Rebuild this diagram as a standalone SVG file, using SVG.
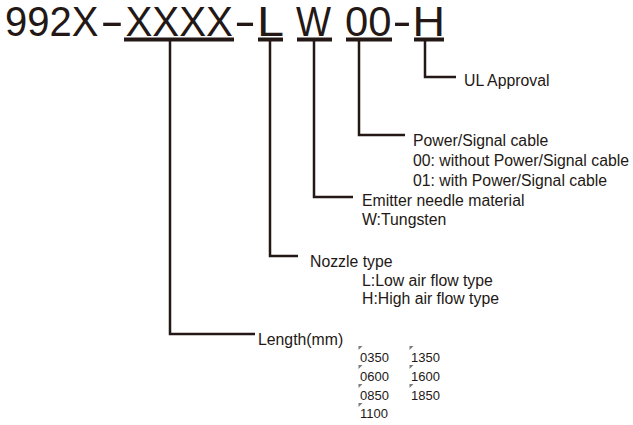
<svg xmlns="http://www.w3.org/2000/svg" width="633" height="425" viewBox="0 0 633 425">
<style>
.t{font-family:"Liberation Sans",Arial,sans-serif;fill:#231815}
.code{font-size:43px}
.lab{font-size:15.8px}
.num{font-size:13px}
.ln{stroke:#231815;stroke-width:2.5;fill:none}
.ul{stroke:#231815;stroke-width:4;fill:none}
.mk{fill:#7a7a7a}
</style>
<rect width="633" height="425" fill="#ffffff"/>
<g id="code">
<text class="t code" x="5" y="36" textLength="93.5" lengthAdjust="spacingAndGlyphs">992X</text>
<text class="t code" x="100" y="36" textLength="24" lengthAdjust="spacingAndGlyphs">-</text>
<text class="t code" x="125.5" y="36" textLength="107.5" lengthAdjust="spacingAndGlyphs">XXXX</text>
<text class="t code" x="234" y="36" textLength="22" lengthAdjust="spacingAndGlyphs">-</text>
<text class="t code" x="257" y="36" textLength="27" lengthAdjust="spacingAndGlyphs">L</text>
<text class="t code" x="296" y="36" textLength="35" lengthAdjust="spacingAndGlyphs">W</text>
<text class="t code" x="345" y="36" textLength="46.5" lengthAdjust="spacingAndGlyphs">00</text>
<text class="t code" x="392.5" y="36" textLength="19" lengthAdjust="spacingAndGlyphs">-</text>
<text class="t code" x="412.5" y="36" textLength="32.5" lengthAdjust="spacingAndGlyphs">H</text>
</g>
<g id="connectors">
<line class="ul" x1="124" y1="39.5" x2="234" y2="39.5"/>
<line class="ul" x1="258" y1="39.5" x2="283" y2="39.5"/>
<line class="ul" x1="297" y1="39.5" x2="332" y2="39.5"/>
<line class="ul" x1="346" y1="39.5" x2="392" y2="39.5"/>
<line class="ul" x1="414" y1="39.5" x2="444" y2="39.5"/>
<polyline class="ln" points="425,41 425,77 456,77"/>
<polyline class="ln" points="359,41 359,135 405,135"/>
<polyline class="ln" points="314,41 314,197 353,197"/>
<polyline class="ln" points="270,41 270,256 298,256"/>
<polyline class="ln" points="170,41 170,334 255,334"/>
</g>
<g id="ul-approval">
<text class="t lab" x="464" y="86">UL Approval</text>
</g>
<g id="power-signal">
<text class="t lab" x="413" y="146">Power/Signal cable</text>
<text class="t lab" x="413" y="166">00: without Power/Signal cable</text>
<text class="t lab" x="413" y="186">01: with Power/Signal cable</text>
</g>
<g id="emitter">
<text class="t lab" x="362" y="206">Emitter needle material</text>
<text class="t lab" x="362" y="225">W:Tungsten</text>
</g>
<g id="nozzle">
<text class="t lab" x="310" y="267">Nozzle type</text>
<text class="t lab" x="362" y="285.5">L:Low air flow type</text>
<text class="t lab" x="362" y="304">H:High air flow type</text>
</g>
<g id="length">
<text class="t lab" x="258" y="345">Length(mm)</text>
<g class="mk">
<polygon points="358.5,346 362.5,346 358.5,350"/>
<polygon points="358.5,365 362.5,365 358.5,369"/>
<polygon points="358.5,384 362.5,384 358.5,388"/>
<polygon points="358.5,403 362.5,403 358.5,407"/>
<polygon points="409.5,346 413.5,346 409.5,350"/>
<polygon points="409.5,365 413.5,365 409.5,369"/>
<polygon points="409.5,384 413.5,384 409.5,388"/>
</g>
<text class="t num" x="360" y="362">0350</text>
<text class="t num" x="360" y="381">0600</text>
<text class="t num" x="360" y="399.5">0850</text>
<text class="t num" x="360" y="418">1100</text>
<text class="t num" x="411" y="362">1350</text>
<text class="t num" x="411" y="381">1600</text>
<text class="t num" x="411" y="399.5">1850</text>
</g>
</svg>
